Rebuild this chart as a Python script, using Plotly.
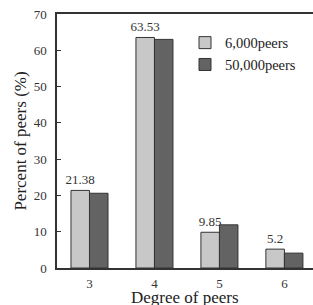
import plotly.graph_objects as go

degrees = [3, 4, 5, 6]
peers_6000 = [21.38, 63.53, 9.85, 5.2]
peers_50000 = [20.6, 63.0, 11.9, 4.1]
labels_6000 = ["21.38", "63.53", "9.85", "5.2"]

FONT = "Liberation Serif, Times New Roman, serif"

fig = go.Figure()
fig.add_trace(go.Bar(
    x=degrees, y=peers_6000, name="6,000peers",
    marker=dict(color="#c8c8c8", line=dict(color="#333333", width=1)),
    text=labels_6000, textposition="outside", cliponaxis=False,
    constraintext="none",
    textfont=dict(family=FONT, size=13, color="#333333"),
))
fig.add_trace(go.Bar(
    x=degrees, y=peers_50000, name="50,000peers",
    marker=dict(color="#636363", line=dict(color="#333333", width=1)),
))

fig.update_layout(
    width=313, height=305,
    margin=dict(l=57, r=0, t=14, b=37),
    paper_bgcolor="white", plot_bgcolor="white",
    barmode="group", bargap=0.43, bargroupgap=0,
    font=dict(family=FONT, color="#333333"),
    showlegend=True,
    legend=dict(x=0.5, y=0.95, xanchor="left", yanchor="top",
                font=dict(family=FONT, size=14.5, color="#222222"),
                bgcolor="rgba(0,0,0,0)", itemwidth=30),
    xaxis=dict(
        range=[2.5, 6.44], tickvals=degrees, ticktext=[str(d) for d in degrees],
        showgrid=False, zeroline=False, showline=True, linecolor="#333333",
        linewidth=1.5, mirror=True, ticks="", ticklabelstandoff=3,
        tickfont=dict(family=FONT, size=13, color="#333333"),
    ),
    yaxis=dict(
        range=[0, 70], dtick=10, showgrid=False, zeroline=False,
        showline=True, linecolor="#333333", linewidth=1.5,
        ticks="inside", ticklen=4, tickcolor="#333333",
        ticklabelstandoff=6,
        tickfont=dict(family=FONT, size=13, color="#333333"),
        title=dict(text="Percent of peers (%)", standoff=3,
                   font=dict(family=FONT, size=17, color="#222222")),
    ),
    annotations=[dict(
        text="Degree of peers", xref="paper", yref="paper", x=0.5, y=0,
        xanchor="center", yanchor="middle", yshift=-29, showarrow=False,
        font=dict(family=FONT, size=17, color="#222222"),
    )],
)

fig.write_html("out.html", config={"displayModeBar": False},
               post_script="document.body.style.margin='0';")
